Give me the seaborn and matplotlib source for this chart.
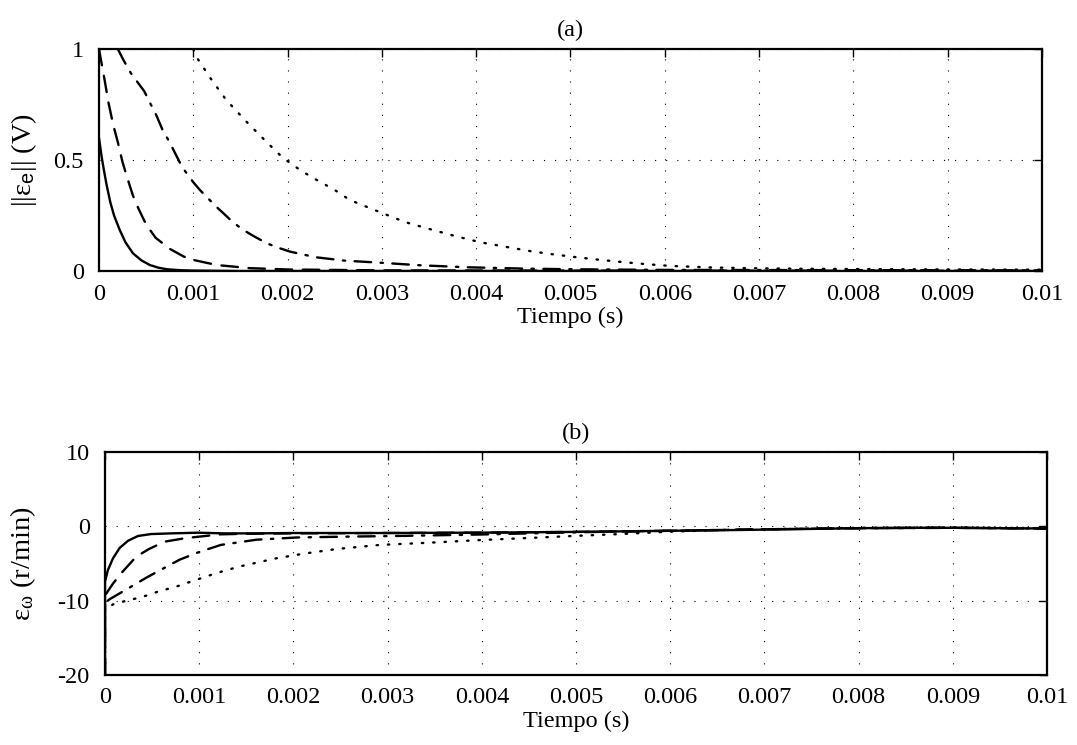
import numpy as np
import pandas as pd
import matplotlib
matplotlib.use("Agg")
import matplotlib.pyplot as plt
import seaborn as sns

# ---- data (time in ms, converted to s below) ----
# (a) norm of the electrical error, four gain settings
ta_solid = [0, 0.01, 0.03, 0.05, 0.08, 0.12, 0.16, 0.22, 0.28, 0.36, 0.45, 0.54,
            0.63, 0.72, 0.85, 1.0, 1.5, 10]
va_solid = [0.60, 0.57, 0.51, 0.46, 0.39, 0.31, 0.25, 0.185, 0.13, 0.08, 0.048,
            0.027, 0.015, 0.008, 0.004, 0.002, 0.0, 0.0]

ta_dashed = [0, 0.03, 0.06, 0.10, 0.15, 0.20, 0.25, 0.30, 0.36, 0.42, 0.50, 0.60,
             0.75, 0.90, 1.0, 1.25, 1.6, 2.0, 3.0, 5.0, 10]
va_dashed = [1.0, 0.93, 0.86, 0.76, 0.66, 0.58, 0.49, 0.42, 0.34, 0.28, 0.21, 0.15,
             0.10, 0.065, 0.05, 0.027, 0.013, 0.007, 0.003, 0.002, 0.001]

ta_dashdot = [0.20, 0.26, 0.34, 0.41, 0.48, 0.55, 0.61, 0.68, 0.75, 0.82, 0.88, 0.93,
              1.0, 1.07, 1.14, 1.23, 1.32, 1.42, 1.53, 1.65, 1.78, 1.9, 2.03, 2.3,
              2.6, 3.0, 3.4, 3.9, 4.5, 5.0, 6.0, 8.0, 10]
va_dashdot = [1.0, 0.95, 0.89, 0.85, 0.81, 0.75, 0.70, 0.63, 0.58, 0.52, 0.47, 0.44,
              0.40, 0.365, 0.335, 0.295, 0.26, 0.22, 0.185, 0.155, 0.125, 0.105,
              0.087, 0.062, 0.047, 0.037, 0.026, 0.017, 0.011, 0.008, 0.005, 0.004,
              0.003]

ta_dotted = [1.0, 1.04, 1.18, 1.35, 1.57, 1.78, 1.95, 2.15, 2.31, 2.5, 2.66, 2.98,
             3.25, 3.54, 3.8, 4.04, 4.3, 4.57, 4.8, 5.05, 5.3, 5.56, 5.8, 6.06, 6.5,
             7.0, 7.5, 8.0, 9.0, 10]
va_dotted = [1.0, 0.96, 0.87, 0.77, 0.67, 0.58, 0.51, 0.45, 0.41, 0.365, 0.32,
             0.265, 0.22, 0.185, 0.155, 0.13, 0.11, 0.09, 0.076, 0.063, 0.051, 0.04,
             0.031, 0.023, 0.016, 0.012, 0.01, 0.009, 0.007, 0.006]

# (b) speed error
tb_solid = [0, 0, 0.03, 0.085, 0.156, 0.245, 0.35, 0.49, 0.7, 0.99, 1.27, 1.6, 2.0,
            2.5, 3.0, 4.0, 5.0, 6.0, 6.7, 7.5, 8.0, 8.5, 9.0, 9.5, 10]
vb_solid = [-20, -7.45, -5.9, -4.3, -2.9, -1.94, -1.3, -1.04, -0.95, -0.86, -0.95,
            -0.95, -0.9, -0.9, -0.9, -0.85, -0.75, -0.6, -0.5, -0.35, -0.25, -0.2,
            -0.2, -0.25, -0.3]

tb_dashed = [0, 0, 0.085, 0.18, 0.33, 0.46, 0.63, 0.85, 0.99, 1.23, 1.5, 2.0, 3.0,
             4.0, 5.0, 6.0, 7.0, 8.0, 9.0, 10]
vb_dashed = [-20, -9.3, -7.7, -6.2, -4.1, -3.1, -2.07, -1.6, -1.4, -1.08, -1.0,
             -0.95, -0.9, -0.85, -0.75, -0.6, -0.4, -0.25, -0.2, -0.3]

tb_dashdot = [0, 0, 0.05, 0.226, 0.44, 0.6, 0.79, 0.99, 1.23, 1.61, 2.04, 2.5, 3.1,
              4.0, 5.0, 6.0, 7.0, 8.0, 9.0, 10]
vb_dashdot = [-20, -10.3, -9.8, -8.5, -6.9, -5.8, -4.5, -3.5, -2.5, -1.8, -1.5,
              -1.4, -1.3, -1.1, -0.8, -0.6, -0.4, -0.25, -0.2, -0.3]

tb_dotted = [0, 0, 0.03, 0.085, 0.2, 0.33, 0.46, 0.58, 0.69, 0.81, 0.93, 1.04, 1.18,
             1.43, 1.82, 2.1, 2.46, 2.92, 3.45, 3.98, 4.44, 4.97, 5.47, 6.0, 6.53,
             7.0, 8.0, 9.0, 10]
vb_dotted = [-20, -10.6, -11.0, -10.5, -10.1, -9.7, -9.25, -8.7, -8.35, -7.9, -7.35,
             -6.9, -6.3, -5.4, -4.3, -3.7, -3.05, -2.5, -2.2, -1.85, -1.6, -1.3,
             -1.04, -0.72, -0.5, -0.4, -0.2, -0.15, -0.25]

x_ticks = [0, 0.001, 0.002, 0.003, 0.004, 0.005, 0.006, 0.007, 0.008, 0.009, 0.01]
x_tick_labels = ["0", "0.001", "0.002", "0.003", "0.004", "0.005", "0.006",
                 "0.007", "0.008", "0.009", "0.01"]
ya_ticks = [0, 0.5, 1]
ya_tick_labels = ["0", "0.5", "1"]
yb_ticks = [-20, -10, 0, 10]
yb_tick_labels = ["-20", "-10", "0", "10"]

series_names = ["k1", "k2", "k3", "k4"]


def long_frame(pairs):
    frames = []
    for name, (t, v) in zip(series_names, pairs):
        frames.append(pd.DataFrame({"t": np.asarray(t) * 1e-3, "v": v, "serie": name}))
    return pd.concat(frames, ignore_index=True)


df_a = long_frame([(ta_solid, va_solid), (ta_dashed, va_dashed),
                   (ta_dashdot, va_dashdot), (ta_dotted, va_dotted)])
df_b = long_frame([(tb_solid, vb_solid), (tb_dashed, vb_dashed),
                   (tb_dashdot, vb_dashdot), (tb_dotted, vb_dotted)])

# ---- style ----
sns.set_theme(style="white")
plt.rcParams["font.family"] = ["Liberation Serif", "DejaVu Serif"]
plt.rcParams["mathtext.fontset"] = "custom"
plt.rcParams["mathtext.rm"] = "Liberation Serif"
plt.rcParams["mathtext.it"] = "Liberation Serif"
plt.rcParams["mathtext.sf"] = "Liberation Sans"
plt.rcParams["text.color"] = "black"
plt.rcParams["axes.labelcolor"] = "black"
FS = 17.5

dash_map = {"k1": "", "k2": (7, 4.5), "k3": (7, 4, 1, 4), "k4": (0.6, 4.2)}

fig = plt.figure(figsize=(10.77, 7.45), dpi=100)
ax_a = fig.add_axes([0.0919, 0.6362, 0.8756, 0.298])
ax_b = fig.add_axes([0.0975, 0.094, 0.8747, 0.2993])


def draw(ax, df, ylim, yticks, yticklabels, ylabel, ylabelpad, title):
    sns.lineplot(data=df, x="t", y="v", style="serie", dashes=dash_map,
                 color="black", linewidth=1.7, estimator=None, sort=False,
                 legend=False, ax=ax)
    for line in ax.get_lines():
        line.set_dash_capstyle("round")
        line.set_solid_capstyle("butt")
    ax.set_xlim(0, 0.01)
    ax.set_ylim(*ylim)
    ax.set_xticks(x_ticks)
    ax.set_xticklabels(x_tick_labels)
    ax.set_yticks(yticks)
    ax.set_yticklabels(yticklabels)
    ax.grid(True, color="black", linewidth=0.8, linestyle=(0, (1, 9)))
    ax.set_axisbelow(True)
    ax.tick_params(direction="in", length=6, width=1.0, top=True, right=True,
                   labelsize=FS, colors="black")
    ax.tick_params(axis="x", pad=9)
    ax.tick_params(axis="y", pad=11)
    for sp in ax.spines.values():
        sp.set_linewidth(1.6)
        sp.set_color("black")
    ax.set_xlabel("Tiempo (s)", fontsize=FS, labelpad=2)
    ax.set_ylabel(ylabel, fontsize=FS + 3, labelpad=ylabelpad)
    ax.set_title(title, fontsize=FS, pad=9)


draw(ax_a, df_a, (0, 1), ya_ticks, ya_tick_labels,
     r"||ε$_{\mathsf{e}}$|| (V)", 10, "(a)")
draw(ax_b, df_b, (-20, 10), yb_ticks, yb_tick_labels,
     r"ε$_{\mathrm{ω}}$ (r/min)", 14, "(b)")

fig.savefig("out.png", dpi=100)
